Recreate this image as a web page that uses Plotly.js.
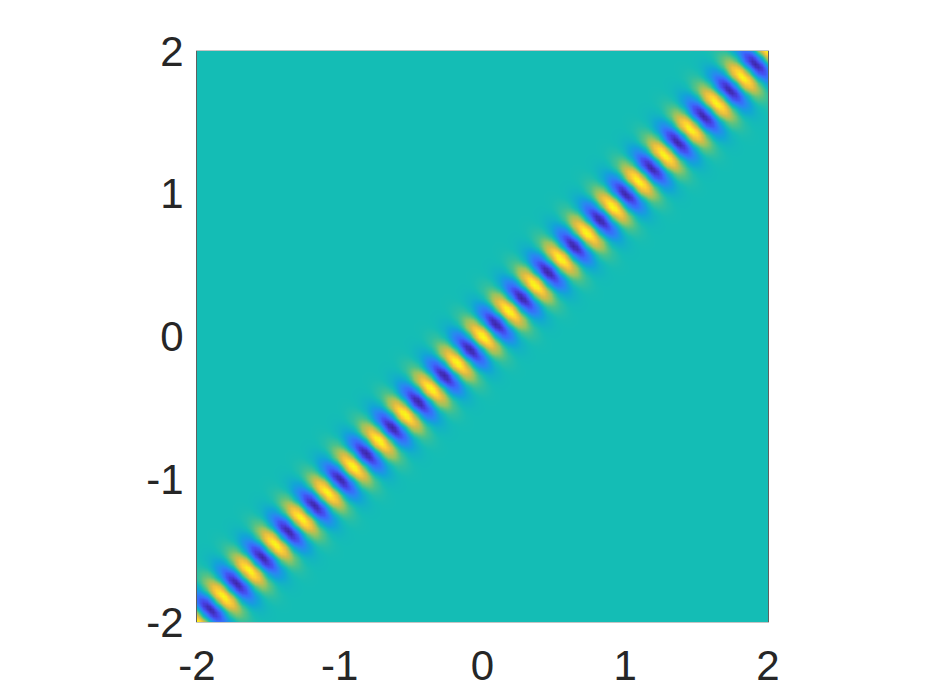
<!DOCTYPE html>
<html>
<head>
<meta charset="utf-8">
<script src="https://cdn.plot.ly/plotly-3.0.1.min.js"></script>
<style>
  html, body { margin: 0; padding: 0; background: #fff; }
  #chart { width: 934px; height: 700px; }
</style>
</head>
<body>
<div id="chart"></div>
<script>
// wave value over one period along the diagonal (16 samples)
let wavePeriod = [1, 0.92, 0.71, 0.38, 0, -0.38, -0.71, -0.92, -1, -0.92, -0.71, -0.38, 0, 0.38, 0.71, 0.92];
// envelope across the diagonal, by grid-step offset |i - j|
let envelope = [1, 0.99, 0.96, 0.91, 0.85, 0.78, 0.7, 0.61, 0.53, 0.45, 0.37, 0.3, 0.24, 0.18, 0.14, 0.1, 0.077, 0.056, 0.039, 0.027, 0.018, 0.012, 0.008, 0.005, 0.003, 0.002];
let numPeriods = 22;
let axisMin = -2, axisMax = 2;

let tickVals = [-2, -1, 0, 1, 2];
let tickText = ['-2', '-1', '0', '1', '2'];

// parula-like colour map
let parula = [
    [0.0, '#3e26a8'],
    [0.1, '#4744e8'],
    [0.2, '#3a6afb'],
    [0.3, '#2789f0'],
    [0.4, '#11a5d6'],
    [0.5, '#14bdb5'],
    [0.6, '#4cc28a'],
    [0.7, '#98c35f'],
    [0.8, '#d6bb45'],
    [0.9, '#fcc935'],
    [1.0, '#f9fb15']
];

function buildGrid() {
    let steps = numPeriods * wavePeriod.length / 2;
    let h = (axisMax - axisMin) / steps;
    let xs = [];
    for (let i = 0; i <= steps; i++) xs.push(axisMin + i * h);
    let z = [];
    for (let i = 0; i <= steps; i++) {
        let row = [];
        for (let j = 0; j <= steps; j++) {
            let k = Math.abs(i - j);
            let env = k < envelope.length ? envelope[k] : 0;
            row.push(env * wavePeriod[(i + j) % wavePeriod.length]);
        }
        z.push(row);
    }
    return { xs: xs, z: z };
}

function plotChart() {
    let g = buildGrid();

    let data = [{
        type: 'heatmap',
        x: g.xs,
        y: g.xs,
        z: g.z,
        zmin: -1,
        zmax: 1,
        zsmooth: 'best',
        colorscale: parula,
        showscale: false,
        hoverinfo: 'skip'
    }];

    let axisFont = { family: 'Liberation Sans, Arial, Helvetica, sans-serif', size: 42, color: '#262626' };

    let layout = {
        width: 934,
        height: 700,
        margin: { l: 197, r: 166, t: 51, b: 78 },
        paper_bgcolor: '#ffffff',
        plot_bgcolor: '#ffffff',
        xaxis: {
            range: [axisMin, axisMax],
            tickvals: tickVals,
            ticktext: tickText,
            tickfont: axisFont,
            ticks: '',
            ticklabelstandoff: 7,
            showgrid: false,
            zeroline: false,
            showline: true,
            linecolor: '#c4c4c4',
            linewidth: 1,
            mirror: true
        },
        yaxis: {
            range: [axisMin, axisMax],
            tickvals: tickVals,
            ticktext: tickText,
            tickfont: axisFont,
            ticks: '',
            ticklabelstandoff: 4,
            showgrid: false,
            zeroline: false,
            showline: true,
            linecolor: '#606060',
            linewidth: 1,
            mirror: true
        },
        showlegend: false
    };

    Plotly.newPlot('chart', data, layout, { displayModeBar: false, staticPlot: true });
}

plotChart();
</script>
</body>
</html>
